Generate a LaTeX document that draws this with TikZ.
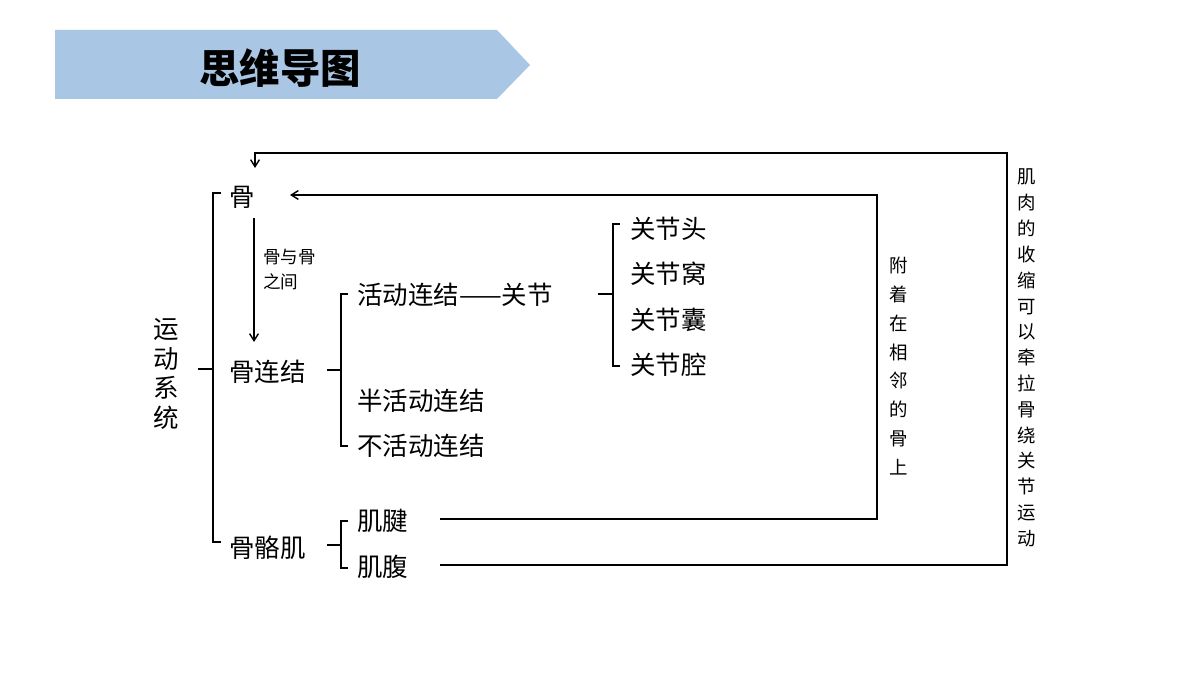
\documentclass[tikz,border=0pt]{standalone}
\usepackage{fontspec}
\newfontfamily\cjk{Noto Sans CJK SC}
\usetikzlibrary{arrows.meta}
\definecolor{bannerblue}{HTML}{A9C7E5}
\begin{document}
\begin{tikzpicture}[x=0.02cm,y=-0.02cm,
  big/.style={font=\cjk\fontsize{14.5}{17}\selectfont,inner sep=0pt},
  small/.style={font=\cjk\fontsize{10}{14}\selectfont,inner sep=0pt,align=left},
  vert/.style={font=\cjk\fontsize{10.5}{16.4}\selectfont,inner sep=0pt,align=center},
  ln/.style={line width=0.8pt,black},
  arr/.style={ln,-{Straight Barb[length=4pt,width=5pt]}}]
\useasboundingbox (0,0) rectangle (1200,675);
% banner
\fill[bannerblue] (55,30) -- (497,30) -- (530,65) -- (497,99) -- (55,99) -- cycle;
\node[font=\cjk\fontsize{23}{26}\selectfont\bfseries] (title) at (280,68) {思维导图};
% root
\node[font=\cjk\fontsize{14.5}{17}\selectfont,inner sep=0pt,align=center] (root) at (166,374) {运\\动\\系\\统};
\coordinate (t0) at (198,369);
\draw[ln] (t0) -- (213,369);
\draw[ln] (221,193) -- (213,193) -- (213,542) -- (221,542);
% level 1
\node[big,anchor=west] (gu) at (229,197) {骨};
\node[big,anchor=west] (glj) at (229,372) {骨连结};
\node[big,anchor=west] (ggj) at (229,548) {骨骼肌};
\coordinate (a1) at (254,218);
\coordinate (a2) at (254,342);
\draw[arr] (a1) -- (a2);
\node[small,anchor=north west] (between) at (263,249) {骨与骨\\之间};
% bracket 2
\draw[ln] (327,370) -- (341,370);
\draw[ln] (348,294) -- (341,294) -- (341,446) -- (348,446);
\node[big,anchor=west] (hd) at (357,295) {活动连结——关节};
\node[big,anchor=west] (bhd) at (357,401) {半活动连结};
\node[big,anchor=west] (bhd2) at (357,446) {不活动连结};
% bracket 3
\draw[ln] (598,294) -- (613,294);
\draw[ln] (620,224) -- (613,224) -- (613,366) -- (620,366);
\node[big,anchor=west] (j1) at (630,229) {关节头};
\node[big,anchor=west] (j2) at (630,274) {关节窝};
\node[big,anchor=west] (j3) at (630,320) {关节囊};
\node[big,anchor=west] (j4) at (630,365) {关节腔};
% bracket 4
\draw[ln] (327,545) -- (341,545);
\draw[ln] (348,521) -- (341,521) -- (341,568) -- (348,568);
\node[big,anchor=west] (jj) at (357,521) {肌腱};
\node[big,anchor=west] (jf) at (357,567) {肌腹};
% feedback lines
\coordinate (g1) at (290,195);
\draw[arr] (440,519) -- (877,519) -- (877,195) -- (g1);
\coordinate (g2) at (255,168);
\draw[arr] (440,565) -- (1007,565) -- (1007,153) -- (255,153) -- (g2);
\node[vert] (l1) at (899,366) {附\\着\\在\\相\\邻\\的\\骨\\上};
\node[vert,font=\cjk\fontsize{10.5}{14.7}\selectfont] (l2) at (1027,358) {肌\\肉\\的\\收\\缩\\可\\以\\牵\\拉\\骨\\绕\\关\\节\\运\\动};
\end{tikzpicture}
\end{document}
